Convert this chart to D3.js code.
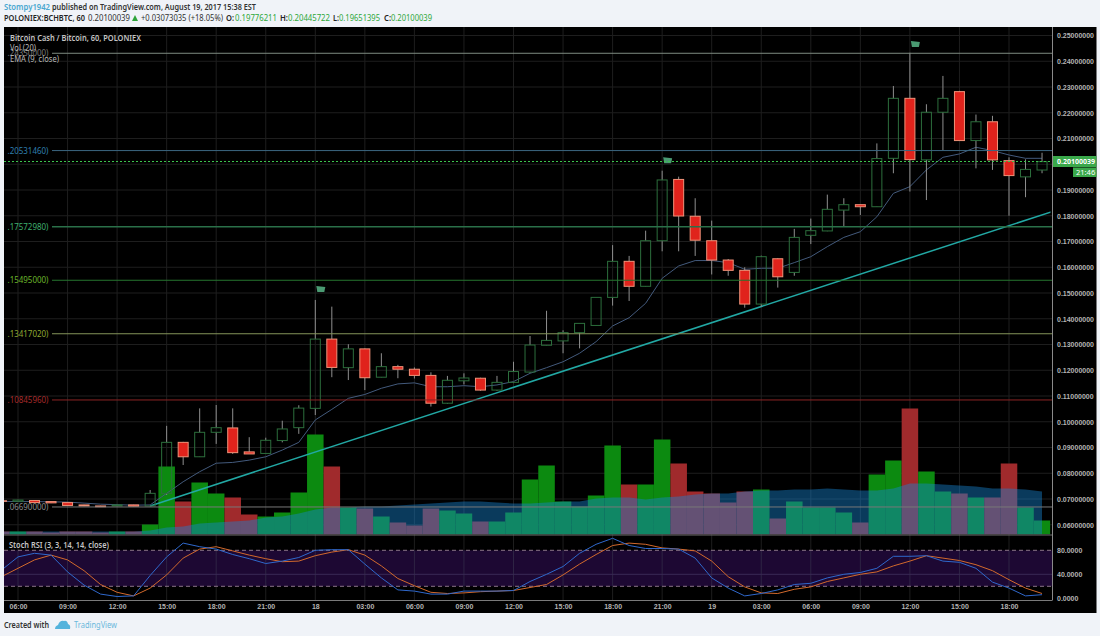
<!DOCTYPE html>
<html>
<head>
<meta charset="utf-8">
<script src="https://cdn.jsdelivr.net/npm/d3@7/dist/d3.min.js"></script>
<style>
    html, body { margin: 0; padding: 0; background: #f0f3f8; }
    svg { display: block; }
    text { font-family: "Noto Sans", sans-serif; }
    .axis text { font-family: "Liberation Sans", sans-serif; font-size: 7px; font-weight: bold; fill: #b4b4b4; }
    .axis line, .axis path { stroke: none; }
</style>
</head>
<body>
<script>
// hourly bars, first one is 05:00 on the 17th (just off the left edge), index 0 is 06:00
var firstBar = -1;
var opens = [.0693,.0691,.0694,.0690,.0686,.0677,.0673,.0673,.0677,.0673,.0722,.0920,.0864,.0959,.0976,.0883,.0877,.0927,.0977,.1052,.1321,.1210,.1283,.1173,.1214,.1204,.1180,.1072,.1159,.1169,.1123,.1153,.1193,.1297,.1314,.1346,.1374,.1483,.1623,.1526,.1703,.1941,.1798,.1703,.1628,.1588,.1457,.1633,.1580,.1724,.1741,.1822,.1843,.1835,.2023,.2256,.2017,.2202,.2282,.2092,.2165,.2014,.1951,.19776];
var highs = [.0696,.0697,.0695,.0691,.0687,.0678,.0674,.0678,.0678,.0735,.0984,.0922,.1052,.1065,.1052,.0940,.0938,.1004,.1064,.1473,.1447,.1301,.1285,.1266,.1221,.1211,.1192,.1178,.1188,.1171,.1178,.1233,.1333,.1431,.1355,.1382,.1483,.1686,.1644,.1742,.1975,.1952,.1868,.1781,.1632,.1600,.1645,.1636,.1749,.1789,.1882,.1868,.1844,.2081,.2304,.2433,.2233,.2343,.2285,.2193,.2188,.2027,.2019,.20446];
var lows = [.0690,.0690,.0685,.0684,.0674,.0672,.0669,.0672,.0671,.0672,.0716,.0832,.0863,.0914,.0875,.0875,.0876,.0920,.0953,.1026,.1173,.1162,.1123,.1172,.1169,.1168,.1059,.1070,.1145,.1120,.1120,.1150,.1190,.1296,.1266,.1285,.1373,.1451,.1469,.1525,.1662,.1662,.1644,.1572,.1567,.1443,.1447,.1521,.1567,.1690,.1740,.1760,.1803,.1834,.1965,.1894,.1861,.2055,.2091,.1984,.1978,.1800,.1872,.19651];
var closes = [.0691,.0696,.0686,.0685,.0675,.0673,.0670,.0677,.0672,.0722,.0920,.0864,.0959,.0977,.0880,.0875,.0928,.0972,.1053,.1321,.1211,.1283,.1171,.1214,.1204,.1180,.1072,.1161,.1170,.1123,.1153,.1195,.1298,.1316,.1346,.1382,.1483,.1623,.1526,.1703,.1939,.1799,.1705,.1628,.1588,.1457,.1641,.1563,.1716,.1742,.1825,.1843,.1835,.2022,.2256,.2018,.2202,.2256,.2092,.2165,.2017,.1956,.1980,.20100];
var emaValues = [.0691,.0690,.0690,.0689,.0688,.0684,.0680,.0678,.0676,.0677,.0722,.0767,.0806,.0839,.0842,.0851,.0864,.0890,.0920,.1007,.1048,.1091,.1106,.1130,.1147,.1151,.1136,.1136,.1140,.1136,.1143,.1156,.1188,.1210,.1233,.1266,.1311,.1372,.1404,.1460,.1557,.1605,.1626,.1626,.1618,.1592,.1596,.1596,.1618,.1641,.1680,.1716,.1738,.1796,.1887,.1913,.1978,.2027,.2040,.2066,.2053,.2036,.2023,.2023];
var volumes = [3,3,3,2,3,3,2,3,3,10,68,33,52,41,37,20,18,22,42,100,68,27,26,18,12,9,26,24,21,13,13,22,55,69,33,28,39,89,50,50,95,71,43,41,32,43,45,16,33,27,27,22,12,60,74,126,63,43,41,37,37,71,27,14];
var volMA = [3,3,3,3,3,3,3,3,3,4,7,8,11,12,13,14,17,18,21,25,27,27,28,28,29,30,31,32,33,33,32,31,31,32,33,33,36,37,37,35,37,38,40,41,41,43,44,44,45,45,46,45,44,44,46,51,51,50,49,48,46,46,45,43];
var rsiK = [47,69,75,72,44,22,7,3,4,38,69,92,86,82,73,66,58,62,68,80,81,81,57,34,14,12,7,7,12,12,12,13,28,40,53,75,90,100,88,83,83,82,67,34,17,4,8,14,23,25,34,40,43,50,70,70,71,62,60,50,27,17,4,6];
var rsiD = [36,50,64,72,64,46,23,10,4,17,39,67,82,86,79,72,66,61,62,71,77,81,72,54,33,21,10,8,9,11,12,13,18,23,39,57,73,88,92,90,84,82,79,62,36,19,9,8,15,19,28,34,40,44,54,62,71,67,63,56,46,31,17,8];

var timeTicks = [0,3,6,9,12,15,18,21,24,27,30,33,36,39,42,45,48,51,54,57,60];
var timeLabels = ["06:00","09:00","12:00","15:00","18:00","21:00","18","03:00","06:00","09:00","12:00","15:00","18:00","21:00","19","03:00","06:00","09:00","12:00","15:00","18:00"];
var priceTicks = [.25,.24,.23,.22,.21,.20,.19,.18,.17,.16,.15,.14,.13,.12,.11,.10,.09,.08,.07,.06];
var rsiTicks = [80,40,0];

var levelValues = [.2431,.20531460,.17572980,.15495000,.13417020,.10845960,.06690000];
var levelLabels = [".24350000)",".20531460)",".17572980)",".15495000)",".13417020)",".10845960)",".06690000)"];
var levelLine = ["#7d8a80","#3b6680","#2a7049","#26752f","#84945a","#8c2424","#777777"];
var levelText = ["#777777","#2f7fae","#3fae6e","#6ab52a","#8ea832","#a52a2a","#8a8a8a"];

var trendBars = [8,62.6];
var trendPrices = [.0673,.1816];
var flagBars = [18,39,54];
var flagPrices = [.1516,.2016,.2467];
var lastPrice = .20100039;

var bars = opens.map(function (d, i) {
    return { i: i + firstBar, o: d, h: highs[i], l: lows[i], c: closes[i], up: closes[i] >= d, vol: volumes[i] };
});

var svg = d3.select("body").append("svg").attr("width", 1100).attr("height", 636);

// panel
svg.append("rect").attr("x", 4).attr("y", 27).attr("width", 1092.5).attr("height", 586).attr("fill", "#000");

var defs = svg.append("defs");
defs.append("clipPath").attr("id", "main").append("rect").attr("x", 4).attr("y", 27).attr("width", 1046.5).attr("height", 507.5);
defs.append("clipPath").attr("id", "lower").append("rect").attr("x", 4).attr("y", 536).attr("width", 1048).attr("height", 64);

var x = d3.scaleLinear().domain([0, 60]).range([18, 1009]);
var y = d3.scaleLinear().domain([.06, .25]).range([524.75, 35.5]);
var yVol = d3.scaleLinear().domain([0, 127]).range([534.5, 407.5]);
var yRsi = d3.scaleLinear().domain([0, 80]).range([598.3, 550.3]);

// grid
var grid = svg.append("g").attr("stroke", "#1e1e1e").attr("stroke-width", 1);
grid.selectAll(".v").data(timeTicks).enter().append("line")
    .attr("x1", function (d) { return x(d); }).attr("x2", function (d) { return x(d); })
    .attr("y1", 27).attr("y2", 600);
grid.selectAll(".h").data(priceTicks).enter().append("line")
    .attr("x1", 4).attr("x2", 1052)
    .attr("y1", function (d) { return y(d); }).attr("y2", function (d) { return y(d); });

var main = svg.append("g").attr("clip-path", "url(#main)");

// volume and its moving average
main.selectAll(".vol").data(bars).enter().append("rect")
    .attr("x", function (d) { return x(d.i) - 8.25; })
    .attr("width", 16.52)
    .attr("y", function (d) { return yVol(d.vol); })
    .attr("height", function (d) { return yVol(0) - yVol(d.vol); })
    .attr("fill", function (d) { return d.up ? "#0c8a10" : "#a02a2c"; });

main.append("path")
    .attr("d", d3.area()
        .x(function (d) { return x(d.i); })
        .y0(yVol(0))
        .y1(function (d, i) { return yVol(volMA[i]); })(bars))
    .attr("fill", "rgb(23,132,209)").attr("fill-opacity", 0.44);

// fib levels
levelValues.forEach(function (v, i) {
    svg.append("line").attr("x1", 52).attr("x2", 1052)
        .attr("y1", y(v)).attr("y2", y(v))
        .attr("stroke", levelLine[i]).attr("stroke-width", i == 2 ? 1.5 : 1);
});
svg.append("g").selectAll("text").data(levelLabels).enter().append("text")
    .attr("x", 48.5).attr("y", function (d, i) { return y(levelValues[i]) + 3; })
    .attr("text-anchor", "end").attr("font-size", 8.5)
    .attr("textLength", 41).attr("lengthAdjust", "spacingAndGlyphs")
    .attr("fill", function (d, i) { return levelText[i]; })
    .text(function (d) { return d; });

// current price
svg.append("line").attr("x1", 4).attr("x2", 1052)
    .attr("y1", 161.5).attr("y2", 161.5)
    .attr("stroke", "#3cc44c").attr("stroke-width", 1).attr("stroke-dasharray", "2,2");

// ema
main.append("path").datum(emaValues)
    .attr("d", d3.line().x(function (d, i) { return x(i + firstBar); }).y(function (d) { return y(d); }))
    .attr("fill", "none").attr("stroke", "#435a7c").attr("stroke-width", 1);

// trend line
main.append("line")
    .attr("x1", x(trendBars[0])).attr("y1", y(trendPrices[0]))
    .attr("x2", x(trendBars[1])).attr("y2", y(trendPrices[1]))
    .attr("stroke", "#22a8a4").attr("stroke-width", 1.5);

// candles, wicks stop at the body because up bars are hollow
var candles = main.selectAll(".candle").data(bars).enter().append("g");
candles.append("path")
    .attr("d", function (d) {
        var cx = x(d.i);
        return "M" + cx + "," + y(d.h) + "V" + y(Math.max(d.o, d.c)) + "M" + cx + "," + y(Math.min(d.o, d.c)) + "V" + y(d.l);
    })
    .attr("stroke", "#8f8f8f").attr("fill", "none");
candles.append("rect")
    .attr("x", function (d) { return x(d.i) - 5; })
    .attr("width", 10)
    .attr("y", function (d) { return y(Math.max(d.o, d.c)); })
    .attr("height", function (d) { return Math.max(0.5, Math.abs(y(d.o) - y(d.c))); })
    .attr("fill", function (d) { return d.up ? "none" : "#e0231c"; })
    .attr("stroke", function (d) { return d.up ? "#2c6e3c" : "#f0937a"; })
    .attr("stroke-width", 1);

// flags
main.selectAll(".flag").data(flagBars).enter().append("path")
    .attr("d", function (d, i) {
        var fx = x(d) + 1, fy = y(flagPrices[i]);
        return "M" + fx + "," + (fy - 3) + "L" + (fx + 9) + "," + (fy - 2) + "L" + (fx + 8) + "," + (fy + 3) + "L" + (fx + 1) + "," + (fy + 3) + "Z";
    })
    .attr("fill", "#4a9a72");

// stoch rsi pane
svg.append("rect").attr("x", 4).attr("y", yRsi(80)).attr("width", 1048).attr("height", yRsi(20) - yRsi(80))
    .attr("fill", "#1d0833");
grid = svg.append("g").attr("stroke", "#2e2444");
grid.selectAll("line").data(timeTicks).enter().append("line")
    .attr("x1", function (d) { return x(d); }).attr("x2", function (d) { return x(d); })
    .attr("y1", yRsi(80)).attr("y2", yRsi(20));
svg.append("line").attr("x1", 4).attr("x2", 1052).attr("y1", yRsi(40)).attr("y2", yRsi(40)).attr("stroke", "#3a2a55");
[80, 20].forEach(function (v) {
    svg.append("line").attr("x1", 4).attr("x2", 1052).attr("y1", yRsi(v)).attr("y2", yRsi(v))
        .attr("stroke", "#8a7488").attr("stroke-dasharray", "4,3");
});
var lower = svg.append("g").attr("clip-path", "url(#lower)");
var rsiLine = d3.line().x(function (d, i) { return x(i + firstBar); }).y(function (d) { return yRsi(d); });
lower.append("path").datum(rsiD).attr("d", rsiLine).attr("fill", "none").attr("stroke", "#d2692c").attr("stroke-width", 1);
lower.append("path").datum(rsiK).attr("d", rsiLine).attr("fill", "none").attr("stroke", "#2f68cc").attr("stroke-width", 1);

// pane borders
svg.append("line").attr("x1", 4).attr("x2", 1052).attr("y1", 535).attr("y2", 535).attr("stroke", "#6e6e6e");
svg.append("line").attr("x1", 4).attr("x2", 1052).attr("y1", 600.5).attr("y2", 600.5).attr("stroke", "#7a7a7a");
svg.append("line").attr("x1", 1052.5).attr("x2", 1052.5).attr("y1", 27).attr("y2", 600.5).attr("stroke", "#8a8a8a");

// axes, the 0.20 tick sits behind the last price tag so it gets no label
svg.append("g").attr("class", "axis").attr("transform", "translate(1052,0)")
    .call(d3.axisRight(y).tickValues(priceTicks.filter(function (d) { return d != .20; })).tickSize(0).tickPadding(5).tickFormat(d3.format(".8f")));
svg.append("g").attr("class", "axis").attr("transform", "translate(1052,0)")
    .call(d3.axisRight(yRsi).tickValues(rsiTicks).tickSize(0).tickPadding(5).tickFormat(d3.format(".4f")));
svg.append("g").attr("class", "axis").attr("transform", "translate(0,601)")
    .call(d3.axisBottom(x).tickValues(timeTicks).tickSize(0).tickPadding(3).tickFormat(function (d, i) { return timeLabels[i]; }));

// last price tags
svg.append("rect").attr("x", 1053).attr("y", 156).attr("width", 43.5).attr("height", 11).attr("fill", "#3aa84a");
svg.append("text").attr("x", 1057).attr("y", 164).attr("font-family", "Liberation Sans").attr("font-size", 7).attr("font-weight", "bold").attr("fill", "#fff").text("0.20100039");
svg.append("rect").attr("x", 1073).attr("y", 167.5).attr("width", 23.5).attr("height", 9.5).attr("fill", "#3aa84a");
svg.append("text").attr("x", 1076).attr("y", 175).attr("font-family", "Liberation Sans").attr("font-size", 7.5).attr("fill", "#fff").text("21:46");

// text with a fixed start and width
function label(txt, px, py, w, size, color, weight) {
    return svg.append("text").attr("x", px).attr("y", py)
        .attr("textLength", w).attr("lengthAdjust", "spacingAndGlyphs")
        .attr("font-size", size).attr("font-weight", weight || "normal")
        .attr("fill", color).text(txt);
}

label("Bitcoin Cash / Bitcoin, 60, POLONIEX", 10, 41, 131, 8.5, "#c4c4c4", 600);
label("Vol (20)", 10, 51, 26, 8.5, "#b8b8b8");
label("EMA (9, close)", 10, 62, 49, 8.5, "#b8b8b8");
label("Stoch RSI (3, 3, 14, 14, close)", 9, 548, 100, 8, "#c4c4c4", 600);

// header
label("Stompy1942", 4, 10, 46, 8.5, "#4aa8d0", 600);
label("published on TradingView.com, August 19, 2017 15:38 EST", 52, 10, 204, 8.5, "#333", 600);
label("POLONIEX:BCHBTC, 60", 4, 21, 81, 8.5, "#222", 600);
label("0.20100039", 88, 21, 42, 8.5, "#333");
svg.append("path").attr("d", "M132,21L138,21L135,15Z").attr("fill", "#2ea43a");
label("+0.03073035 (+18.05%)", 141, 21, 82, 8.5, "#333");
label("O:", 226, 21, 8, 8.5, "#222", 600);
label("0.19776211", 235, 21, 42, 8.5, "#2ea83a");
label("H:", 280, 21, 8, 8.5, "#222", 600);
label("0.20445722", 288, 21, 42, 8.5, "#2ea83a");
label("L:", 333, 21, 6, 8.5, "#222", 600);
label("0.19651395", 339, 21, 41, 8.5, "#2ea83a");
label("C:", 384, 21, 7, 8.5, "#222", 600);
label("0.20100039", 391, 21, 41, 8.5, "#2ea83a");

// footer
label("Created with", 4, 628, 45, 8.5, "#333", 600);
var logo = svg.append("g").attr("fill", "#54b3dc");
logo.append("path").attr("d", "M55,629 Q55,626 58,625 Q60,620 64,621 Q67,620 68,624 Q71,625 70,629 Z");
label("TradingView", 74, 628, 43, 8.5, "#6ab8dc");
</script>
</body>
</html>
